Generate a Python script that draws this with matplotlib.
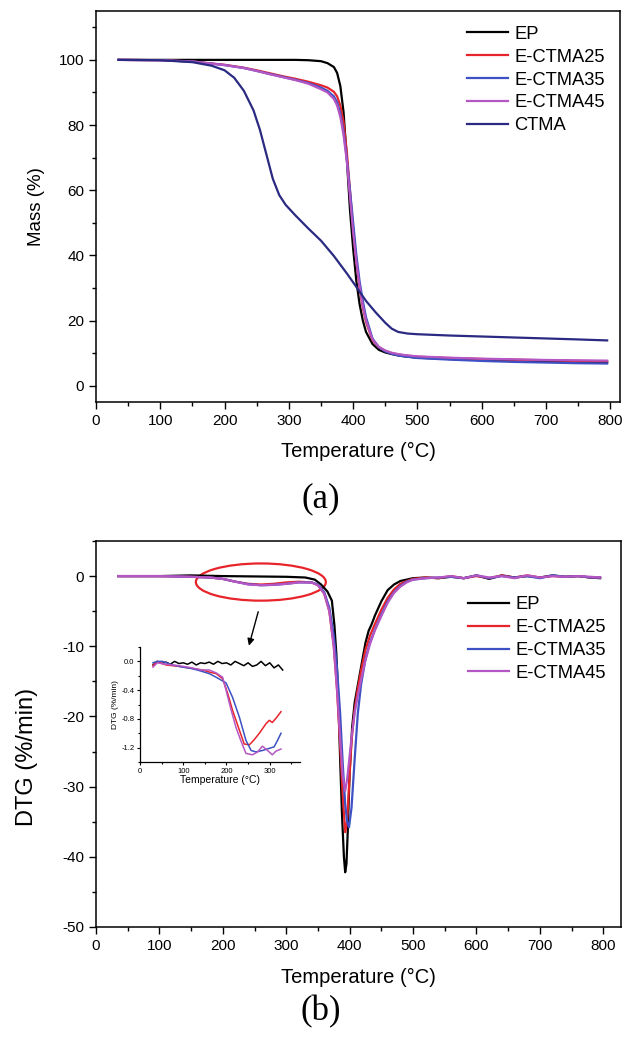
import matplotlib
matplotlib.use("Agg")
import matplotlib.pyplot as plt
from matplotlib.patches import Ellipse
from matplotlib.ticker import MultipleLocator

plt.rcParams['font.family'] = ['Liberation Sans', 'DejaVu Sans']
plt.rcParams['axes.unicode_minus'] = False

# ---------------- TGA data (panel a) ----------------
T_tga = [35, 100, 150, 200, 230, 250, 270, 290, 310, 330, 350, 360, 370, 375, 380, 385, 390,
         395, 400, 405, 410, 415, 420, 430, 440, 450, 460, 470, 480, 500, 550, 600, 650, 700, 750, 795]
mass_EP = [100, 100, 100, 100, 100, 100, 100, 100, 100, 99.9, 99.6, 99.0, 97.8, 96.0, 92.0, 84.0, 70.0,
           54.0, 42.0, 32.0, 25.0, 20.0, 16.5, 12.8, 11.0, 10.2, 9.7, 9.3, 9.0, 8.6, 8.2, 7.9, 7.7, 7.5, 7.3, 7.2]
mass_E25 = [100, 99.9, 99.5, 98.5, 97.6, 96.8, 95.9, 95.0, 94.2, 93.3, 92.2, 91.5, 90.2, 88.8, 86.0, 81.0, 72.0,
            60.0, 48.0, 38.0, 30.0, 24.0, 19.5, 14.0, 11.8, 10.7, 10.0, 9.6, 9.3, 8.9, 8.5, 8.2, 8.0, 7.8, 7.6, 7.5]
mass_E35 = [100, 99.9, 99.5, 98.4, 97.5, 96.6, 95.7, 94.8, 93.9, 92.9, 91.5, 90.5, 88.8, 87.0, 83.5, 78.0, 70.0,
            60.0, 50.0, 40.0, 32.0, 26.0, 21.0, 14.5, 11.8, 10.5, 9.8, 9.3, 9.0, 8.5, 8.0, 7.6, 7.3, 7.1, 6.9, 6.8]
mass_E45 = [100, 99.9, 99.5, 98.4, 97.5, 96.6, 95.6, 94.7, 93.8, 92.7, 91.0, 90.0, 88.0, 86.0, 82.5, 77.0, 69.0,
            58.0, 47.0, 38.0, 30.5, 24.5, 20.0, 14.2, 11.9, 10.8, 10.1, 9.7, 9.4, 9.0, 8.6, 8.3, 8.1, 7.9, 7.8, 7.7]
T_ctma = [35, 100, 150, 180, 200, 215, 230, 245, 255, 265, 275, 285, 295, 310, 330, 350, 370, 390, 405,
          420, 435, 450, 460, 470, 485, 500, 550, 600, 650, 700, 750, 795]
mass_CTMA = [100, 99.9, 99.3, 98.2, 96.8, 94.5, 90.5, 84.5, 78.5, 71.0, 63.5, 58.5, 55.5, 52.3, 48.3, 44.5, 39.8,
             34.5, 30.3, 26.0, 22.5, 19.3, 17.5, 16.5, 16.0, 15.8, 15.4, 15.1, 14.8, 14.5, 14.2, 13.9]

# ---------------- DTG data (panel b) ----------------
T_dtg_EP = [35, 100, 150, 200, 250, 300, 330, 345, 355, 365, 372, 376, 379, 382, 385, 388, 391, 393, 395, 397,
            400, 404, 408, 413, 418, 421, 425, 430, 435, 440, 450, 460, 470, 480, 500, 520, 540, 560, 580, 600,
            620, 640, 660, 680, 700, 720, 740, 760, 780, 795]
dtg_EP = [0, 0, 0.1, 0, -0.05, -0.1, -0.2, -0.5, -1.2, -2.2, -3.5, -7.0, -11.0, -17.0, -26.0, -34.0, -40.0, -42.2, -41.0,
          -36.5, -28.0, -21.5, -18.0, -15.5, -13.0, -11.5, -9.5, -7.8, -6.8, -5.6, -3.6, -2.0, -1.2, -0.7, -0.3, -0.2,
          -0.3, -0.1, -0.3, 0.1, -0.4, 0.1, -0.2, 0, -0.2, 0.1, -0.1, 0, -0.2, -0.3]
T_dtg = [35, 100, 150, 180, 200, 220, 240, 260, 280, 300, 320, 340, 350, 360, 368, 375, 380, 385, 389, 393,
         396, 399, 403, 408, 413, 418, 425, 432, 440, 450, 460, 470, 480, 490, 500, 520, 540, 560, 580, 600,
         620, 640, 660, 680, 700, 720, 740, 760, 780, 795]
dtg_E25 = [0, 0, -0.1, -0.2, -0.4, -0.8, -1.1, -1.2, -1.1, -0.9, -0.8, -0.9, -1.3, -2.5, -5.0, -10.0, -16.0, -24.0,
           -31.0, -36.5, -35.0, -30.0, -23.5, -19.0, -16.0, -13.5, -10.5, -8.5, -6.8, -4.8, -3.1, -1.9, -1.1, -0.7,
           -0.4, -0.2, -0.3, 0, -0.3, 0, -0.3, 0.1, -0.2, 0.1, -0.2, 0, -0.1, 0, -0.2, -0.2]
dtg_E35 = [0, 0, -0.1, -0.2, -0.4, -0.8, -1.15, -1.3, -1.25, -1.1, -0.9, -0.9, -1.2, -2.3, -4.5, -8.5, -13.0, -19.5,
           -26.5, -32.5, -35.0, -35.8, -33.0, -26.0, -19.5, -15.5, -11.8, -9.5, -7.6, -5.5, -3.6, -2.3, -1.4, -0.8,
           -0.5, -0.3, -0.2, -0.1, -0.3, 0.1, -0.3, 0, -0.2, 0, -0.3, 0.1, -0.1, 0, -0.2, -0.2]
dtg_E45 = [0, 0, -0.1, -0.2, -0.4, -0.8, -1.2, -1.3, -1.25, -1.1, -0.9, -0.9, -1.3, -2.5, -5.0, -10.0, -16.0, -23.0,
           -28.5, -30.6, -29.0, -26.5, -23.0, -19.5, -17.0, -14.8, -12.0, -9.7, -7.7, -5.7, -3.8, -2.4, -1.5, -0.9,
           -0.5, -0.3, -0.2, 0, -0.3, 0.1, -0.2, 0, -0.3, 0.1, -0.2, 0, -0.1, 0, -0.1, -0.2]

# ---------------- Inset data ----------------
T_in_EP = [30, 40, 50, 60, 70, 80, 90, 100, 110, 120, 130, 140, 150, 160, 170, 180, 190, 200, 210, 220,
           230, 240, 250, 260, 270, 280, 290, 300, 310, 320, 330]
in_EP = [-0.05, 0.0, -0.03, -0.01, -0.04, 0.0, -0.03, -0.02, -0.04, -0.01, -0.05, -0.02, -0.03, -0.01, -0.04,
         0.0, -0.03, -0.02, -0.05, 0.0, -0.03, -0.06, -0.02, -0.07, -0.05, 0.0, -0.06, -0.02, -0.09, -0.05, -0.12]
T_in_E25 = [30, 40, 60, 90, 122, 145, 161, 176, 191, 203, 214, 230, 241, 253, 264, 276, 291, 299, 306, 316, 326]
in_E25 = [-0.06, 0.0, -0.05, -0.07, -0.1, -0.12, -0.15, -0.17, -0.24, -0.45, -0.68, -0.96, -1.15, -1.16,
          -1.09, -1.0, -0.87, -0.82, -0.85, -0.78, -0.7]
T_in_E35 = [30, 40, 52, 75, 99, 120, 138, 160, 176, 199, 214, 230, 245, 257, 268, 283, 299, 310, 318, 326]
in_E35 = [-0.02, 0.0, 0.0, -0.05, -0.08, -0.1, -0.13, -0.17, -0.22, -0.3, -0.5, -0.78, -1.1, -1.24, -1.26,
          -1.24, -1.21, -1.19, -1.1, -1.0]
T_in_E45 = [30, 40, 60, 90, 120, 141, 160, 176, 191, 199, 210, 222, 233, 245, 260, 272, 283, 295, 306, 314, 326]
in_E45 = [-0.08, -0.02, -0.04, -0.06, -0.09, -0.12, -0.12, -0.16, -0.22, -0.4, -0.66, -0.92, -1.1, -1.28,
          -1.3, -1.26, -1.18, -1.24, -1.3, -1.25, -1.22]

labels = ['EP', 'E-CTMA25', 'E-CTMA35', 'E-CTMA45', 'CTMA']
colors = ['#000000', '#e8242b', '#3d51c4', '#b456c4', '#2a2a82']

fig = plt.figure(figsize=(6.24, 10.42), dpi=100)
W, H = 624, 1042

def frac(l, t, r, b):
    return [l / W, 1 - b / H, (r - l) / W, (b - t) / H]

def style(ax, tsize=11):
    ax.tick_params(which='major', direction='out', length=5, width=1, labelsize=tsize,
                   top=False, right=False)
    ax.tick_params(which='minor', direction='out', length=3, width=1, top=False, right=False)
    for s in ax.spines.values():
        s.set_linewidth(1.1)

# ---- Panel (a) ----
ax1 = fig.add_axes(frac(96, 11, 620, 402))
ax1.plot(T_tga, mass_EP, color=colors[0], lw=1.6, label=labels[0])
ax1.plot(T_tga, mass_E25, color=colors[1], lw=1.6, label=labels[1])
ax1.plot(T_tga, mass_E35, color=colors[2], lw=1.6, label=labels[2])
ax1.plot(T_tga, mass_E45, color=colors[3], lw=1.6, label=labels[3])
ax1.plot(T_ctma, mass_CTMA, color=colors[4], lw=1.6, label=labels[4])
ax1.set_xlim(0, 815)
ax1.set_ylim(-5, 115)
ax1.xaxis.set_major_locator(MultipleLocator(100))
ax1.xaxis.set_minor_locator(MultipleLocator(50))
ax1.yaxis.set_minor_locator(MultipleLocator(10))
ax1.set_yticks([0, 20, 40, 60, 80, 100])
style(ax1)
ax1.set_xlabel('Temperature (°C)', fontsize=14.5, labelpad=10)
ax1.set_ylabel('Mass (%)', fontsize=13.5, labelpad=10)
ax1.legend(loc='upper right', bbox_to_anchor=(0.995, 0.995), frameon=False, fontsize=13.2,
           handlelength=2.2, handletextpad=0.35, labelspacing=0.32, borderaxespad=0.3)
fig.text(321 / W, 1 - 499 / H, '(a)', ha='center', va='center', fontsize=25,
         family=['Liberation Serif', 'DejaVu Serif'])

# ---- Panel (b) ----
ax2 = fig.add_axes(frac(96, 541, 621, 927))
ax2.plot(T_dtg_EP, dtg_EP, color=colors[0], lw=1.6, label=labels[0])
ax2.plot(T_dtg, dtg_E25, color=colors[1], lw=1.6, label=labels[1])
ax2.plot(T_dtg, dtg_E35, color=colors[2], lw=1.6, label=labels[2])
ax2.plot(T_dtg, dtg_E45, color=colors[3], lw=1.6, label=labels[3])
ax2.set_xlim(0, 828)
ax2.set_ylim(-50, 5)
ax2.xaxis.set_major_locator(MultipleLocator(100))
ax2.xaxis.set_minor_locator(MultipleLocator(50))
ax2.yaxis.set_minor_locator(MultipleLocator(5))
ax2.set_yticks([-50, -40, -30, -20, -10, 0])
style(ax2)
ax2.set_xlabel('Temperature (°C)', fontsize=14.5, labelpad=11)
ax2.set_ylabel('DTG (%/min)', fontsize=17)
ax2.yaxis.set_label_coords(-0.11, 0.44)
ax2.legend(loc='upper right', bbox_to_anchor=(0.995, 0.89), frameon=False, fontsize=13.2,
           handlelength=2.2, handletextpad=0.35, labelspacing=0.32, borderaxespad=0.3)
ax2.add_patch(Ellipse((260, -0.85), 205, 5.3, fill=False, edgecolor='#e8242b', lw=1.6))
ax2.annotate('', xy=(240, -10.3), xytext=(257, -4.7),
             arrowprops=dict(arrowstyle='-|>', color='black', lw=1.0, mutation_scale=10))
fig.text(321 / W, 1 - 1012 / H, '(b)', ha='center', va='center', fontsize=25,
         family=['Liberation Serif', 'DejaVu Serif'])

# ---- Inset ----
ax3 = fig.add_axes(frac(140, 647, 300, 762))
ax3.plot(T_in_EP, in_EP, color=colors[0], lw=1.1)
ax3.plot(T_in_E25, in_E25, color=colors[1], lw=1.1)
ax3.plot(T_in_E35, in_E35, color=colors[2], lw=1.1)
ax3.plot(T_in_E45, in_E45, color=colors[3], lw=1.1)
ax3.set_xlim(0, 370)
ax3.set_ylim(-1.4, 0.2)
ax3.spines['top'].set_visible(False)
ax3.spines['right'].set_visible(False)
ax3.xaxis.set_major_locator(MultipleLocator(100))
ax3.xaxis.set_minor_locator(MultipleLocator(50))
ax3.yaxis.set_minor_locator(MultipleLocator(0.2))
ax3.set_yticks([-1.2, -0.8, -0.4, 0.0])
ax3.set_yticklabels(['-1.2', '-0.8', '-0.4', '0.0'])
ax3.tick_params(which='major', direction='out', length=2.5, width=0.8, labelsize=5.5, pad=1.5)
ax3.tick_params(which='minor', direction='out', length=1.5, width=0.8)
for s in ax3.spines.values():
    s.set_linewidth(0.9)
ax3.set_xlabel('Temperature (°C)', fontsize=7.5, labelpad=0.5)
ax3.set_ylabel('DTG (%/min)', fontsize=6, labelpad=2)

fig.savefig('out.png', dpi=100)
